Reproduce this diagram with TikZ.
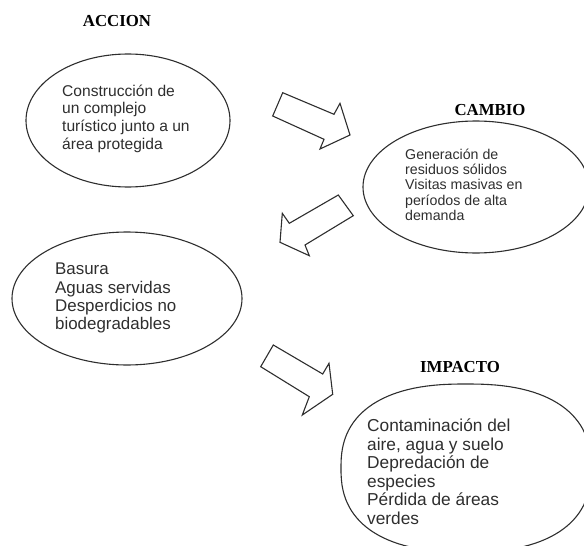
\documentclass[tikz,border=0pt]{standalone}
\usepackage{fontspec}
\usetikzlibrary{shapes.geometric}
\newfontfamily\bodyfont{Liberation Sans}
\newfontfamily\titlefont{Liberation Serif}
\definecolor{ink}{HTML}{2E2E2E}
\tikzset{
  oval/.style={ellipse, draw=ink, line width=1.1pt, inner sep=0pt},
  ovalline/.style={draw=ink, line width=1.1pt, line join=round},
  title/.style={font=\titlefont\bfseries\fontsize{16.8}{18}\selectfont, text=black, inner sep=0pt},
  body/.style={align=left, anchor=north west, inner sep=0pt, text=ink},
  blockarrow/.style={draw=ink, line width=1.1pt, line join=miter, fill=white}
}
\begin{document}
\begin{tikzpicture}[x=1pt,y=-1pt]
\useasboundingbox (0,0) rectangle (584,546);
% ellipses
\node[oval, minimum width=204pt, minimum height=133pt] (e1) at (128,120.5) {};
\node[oval, minimum width=226pt, minimum height=132pt] (e2) at (476,187) {};
\node[oval, minimum width=230pt, minimum height=133pt] (e3) at (127,298.5) {};
% slightly full oval for IMPACTO
\coordinate (e4) at (466,468);
\draw[ovalline] plot[domain=1:361, samples=121]
  ({466 + 125*sign(cos(\x))*pow(abs(cos(\x)),0.82)},
   {468 + 84*sign(sin(\x))*pow(abs(sin(\x)),0.82)}) -- cycle;
% titles
\node[title] (t1) at (117,21) {ACCION};
\node[title] (t2) at (490,110) {CAMBIO};
\node[title] (t4) at (460,367.5) {IMPACTO};
% texts
\node[body, font=\bodyfont\fontsize{15.6}{17.7}\selectfont] (x1) at (62,84.5)
  {Construcción de\\un complejo\\turístico junto a un\\área protegida};
\node[body, font=\bodyfont\fontsize{14.2}{15.4}\selectfont] (x2) at (405,148.5)
  {Generación de\\residuos sólidos\\Visitas masivas en\\períodos de alta\\demanda};
\node[body, font=\bodyfont\fontsize{16.9}{18.3}\selectfont] (x3) at (55,263)
  {Basura\\Aguas servidas\\Desperdicios no\\biodegradables};
\node[body, font=\bodyfont\fontsize{17.3}{18.6}\selectfont] (x4) at (367,418.5)
  {Contaminación del\\aire, agua y suelo\\Depredación de\\especies\\Pérdida de áreas\\verdes};
% block arrows
\draw[blockarrow] (282.7,92.7) -- (334,114.3) -- (340,103.3) -- (350,135) -- (320,149) -- (324,139.3) -- (272.7,116) -- cycle;
\draw[blockarrow] (338.3,195) -- (353.3,215.7) -- (305,245) -- (309.3,255.7) -- (280,242.3) -- (282.3,213.3) -- (289.3,223.3) -- cycle;
\draw[blockarrow] (273.3,345) -- (322.7,374) -- (329,363.3) -- (332.7,394.3) -- (302.3,415) -- (309.3,396.7) -- (260.7,366.7) -- cycle;
\end{tikzpicture}
\end{document}
